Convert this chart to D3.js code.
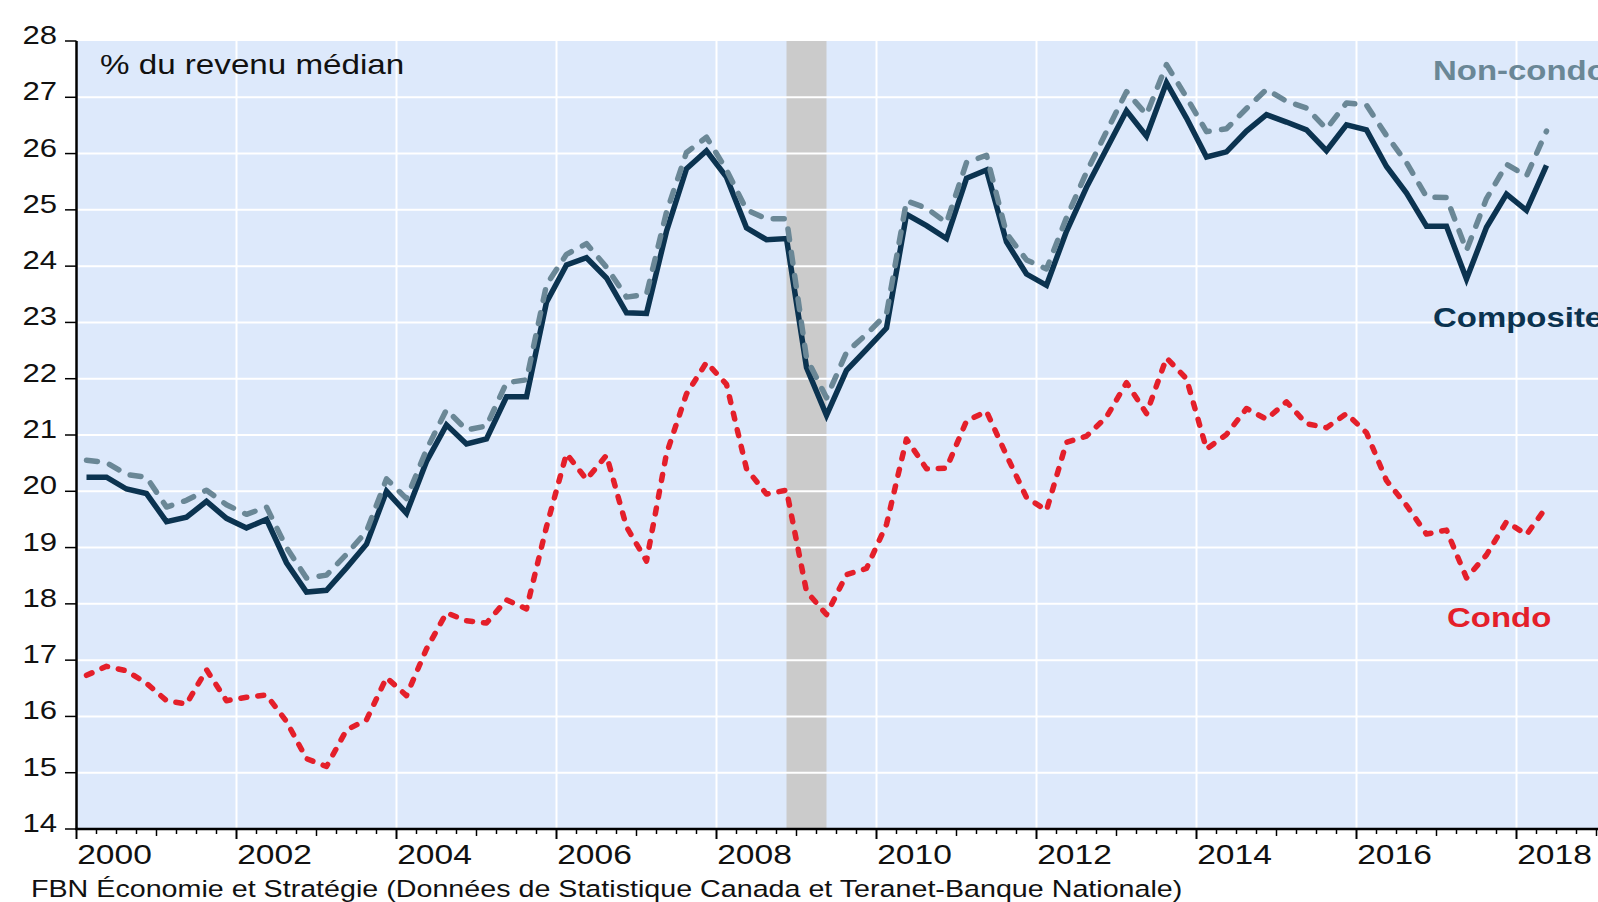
<!DOCTYPE html>
<html>
<head>
<meta charset="utf-8">
<script src="https://cdn.jsdelivr.net/npm/d3@7.9.0/dist/d3.min.js"></script>
<style>
  html, body { margin: 0; padding: 0; background: #fff; overflow: hidden; }
  svg { display: block; font-family: "Liberation Sans", Arial, sans-serif; }
</style>
</head>
<body>
<svg id="chart" width="1598" height="902"></svg>
<script>
// quarterly series, 2000T1 -> 2018T2
const startYear = 2000;
const composite = [
  20.25, 20.25, 20.04, 19.96, 19.46, 19.54, 19.82, 19.52,
  19.35, 19.50, 18.73, 18.21, 18.24, 18.64, 19.06, 20.00,
  19.61, 20.53, 21.18, 20.84, 20.93, 21.68, 21.68, 23.36,
  24.02, 24.15, 23.79, 23.17, 23.16, 24.62, 25.73, 26.05,
  25.58, 24.68, 24.47, 24.49, 22.20, 21.35, 22.15, 22.52,
  22.90, 24.92, 24.72, 24.49, 25.56, 25.71, 24.43, 23.86,
  23.66, 24.62, 25.40, 26.08, 26.76, 26.31, 27.26, 26.63,
  25.94, 26.03, 26.40, 26.69, 26.56, 26.42, 26.05, 26.51,
  26.42, 25.77, 25.30, 24.71, 24.71, 23.77, 24.69, 25.28,
  24.99, 25.79
];
const nonCondo = [
  20.55, 20.51, 20.30, 20.25, 19.72, 19.84, 20.02, 19.76,
  19.59, 19.72, 19.00, 18.46, 18.51, 18.88, 19.29, 20.22,
  19.87, 20.74, 21.45, 21.09, 21.16, 21.93, 21.98, 23.67,
  24.21, 24.40, 23.98, 23.45, 23.50, 24.96, 26.02, 26.29,
  25.71, 25.00, 24.84, 24.84, 22.37, 21.66, 22.47, 22.79,
  23.15, 25.16, 25.03, 24.77, 25.84, 25.97, 24.58, 24.11,
  23.95, 24.86, 25.67, 26.39, 27.10, 26.69, 27.58, 27.00,
  26.39, 26.44, 26.80, 27.14, 26.93, 26.81, 26.44, 26.90,
  26.86, 26.32, 25.84, 25.23, 25.22, 24.28, 25.20, 25.81,
  25.60, 26.40
];
const condo = [
  16.73, 16.89, 16.81, 16.59, 16.28, 16.22, 16.83, 16.28,
  16.34, 16.38, 15.91, 15.25, 15.11, 15.76, 15.94, 16.69,
  16.37, 17.20, 17.84, 17.70, 17.66, 18.07, 17.91, 19.37,
  20.67, 20.21, 20.64, 19.37, 18.76, 20.67, 21.73, 22.29,
  21.90, 20.40, 19.95, 20.02, 18.22, 17.81, 18.52, 18.63,
  19.41, 20.93, 20.40, 20.41, 21.25, 21.42, 20.64, 19.89,
  19.66, 20.87, 20.98, 21.32, 21.93, 21.38, 22.37, 22.00,
  20.75, 21.01, 21.47, 21.28, 21.59, 21.20, 21.13, 21.38,
  21.04, 20.19, 19.75, 19.24, 19.31, 18.46, 18.87, 19.46,
  19.23, 19.72
];
const recession = [2008.875, 2009.375];
const yTicks = [14, 15, 16, 17, 18, 19, 20, 21, 22, 23, 24, 25, 26, 27, 28];
const yearLabels = [2000, 2002, 2004, 2006, 2008, 2010, 2012, 2014, 2016, 2018];

const SX = 1.22; // the original graph is stretched horizontally
const svg = d3.select("#chart");

const x = d3.scaleLinear().domain([2000, 2019]).range([76.5, 1596.5]);
const y = d3.scaleLinear().domain([14, 28]).range([829, 41]);

const quarterDate = (i) => startYear + (i + 0.5) / 4;

function stretched(sel, px, py) {
  return sel.attr("transform", `translate(${px},${py}) scale(${SX},1)`);
}

// background
svg.append("rect")
  .attr("x", x(2000)).attr("y", y(28))
  .attr("width", 1598 - x(2000)).attr("height", y(14) - y(28))
  .attr("fill", "#dde9fb");

// recession band
svg.append("rect")
  .attr("x", x(recession[0])).attr("y", y(28))
  .attr("width", x(recession[1]) - x(recession[0]))
  .attr("height", y(14) - y(28))
  .attr("fill", "#cbcbcb");

// grid
svg.append("g").selectAll("line")
  .data(yTicks.filter((d) => d > 14 && d < 28))
  .join("line")
  .attr("x1", x(2000)).attr("x2", 1598)
  .attr("y1", (d) => y(d)).attr("y2", (d) => y(d))
  .attr("stroke", "#fff").attr("stroke-width", 2);

svg.append("g").selectAll("line")
  .data(yearLabels.filter((d) => d > 2000))
  .join("line")
  .attr("x1", (d) => x(d)).attr("x2", (d) => x(d))
  .attr("y1", y(28)).attr("y2", y(14))
  .attr("stroke", "#fff").attr("stroke-width", 2);

// lines
const line = d3.line()
  .x((d, i) => x(quarterDate(i)))
  .y((d) => y(d));

svg.append("path").datum(condo)
  .attr("d", line).attr("fill", "none")
  .attr("stroke", "#e41f2a").attr("stroke-width", 5.5)
  .attr("stroke-linecap", "round").attr("stroke-linejoin", "round")
  .attr("stroke-dasharray", "6,11");

svg.append("path").datum(composite)
  .attr("d", line).attr("fill", "none")
  .attr("stroke", "#0b3350").attr("stroke-width", 5.5)
  .attr("stroke-linejoin", "miter");

svg.append("path").datum(nonCondo)
  .attr("d", line).attr("fill", "none")
  .attr("stroke", "#6a8796").attr("stroke-width", 5.5)
  .attr("stroke-linecap", "round").attr("stroke-linejoin", "round")
  .attr("stroke-dasharray", "11,12.5");

// axes
const yAxis = svg.append("g");
yAxis.append("line")
  .attr("x1", x(2000)).attr("x2", x(2000))
  .attr("y1", y(28)).attr("y2", y(14) + 1)
  .attr("stroke", "#000").attr("stroke-width", 2.5);
yAxis.selectAll(".tick")
  .data(yTicks)
  .join("line")
  .attr("x1", 65).attr("x2", x(2000))
  .attr("y1", (d) => y(d)).attr("y2", (d) => y(d))
  .attr("stroke", "#000").attr("stroke-width", 1.5);
yAxis.selectAll("text")
  .data(yTicks)
  .join("text")
  .attr("text-anchor", "end")
  .attr("font-size", 25.5)
  .attr("fill", "#111")
  .text((d) => d)
  .each(function (d) { stretched(d3.select(this), 57, y(d) + 3); });

const xAxis = svg.append("g");
xAxis.append("line")
  .attr("x1", x(2000) - 1).attr("x2", 1598)
  .attr("y1", y(14)).attr("y2", y(14))
  .attr("stroke", "#000").attr("stroke-width", 2.5);
const quarterTicks = d3.range(0, 77).map((i) => startYear + i / 4);
xAxis.selectAll(".q")
  .data(quarterTicks)
  .join("line")
  .attr("x1", (d) => x(d)).attr("x2", (d) => x(d))
  .attr("y1", y(14))
  .attr("y2", (d) => y(14) + (d % 2 === 0 ? 10 : d % 1 === 0 ? 7 : 5))
  .attr("stroke", "#000")
  .attr("stroke-width", (d) => (d % 2 === 0 ? 2 : 1.5));
xAxis.selectAll("text")
  .data(yearLabels)
  .join("text")
  .attr("text-anchor", "middle")
  .attr("font-size", 27.5)
  .attr("fill", "#111")
  .text((d) => d)
  .each(function (d) { stretched(d3.select(this), x(d + 0.5) - 2, 864); });

// annotations
stretched(svg.append("text"), 100, 74)
  .attr("font-size", 27.2).attr("fill", "#111")
  .text("% du revenu médian");

stretched(svg.append("text"), 1433, 80)
  .attr("font-size", 27).attr("font-weight", "bold").attr("fill", "#6a8796")
  .text("Non-condo");
stretched(svg.append("text"), 1433, 327)
  .attr("font-size", 27).attr("font-weight", "bold").attr("fill", "#0b3350")
  .text("Composite");
stretched(svg.append("text"), 1447, 627)
  .attr("font-size", 27).attr("font-weight", "bold").attr("fill", "#e41f2a")
  .text("Condo");

stretched(svg.append("text"), 31, 897)
  .attr("font-size", 23.5).attr("fill", "#111")
  .text("FBN Économie et Stratégie (Données de Statistique Canada et Teranet-Banque Nationale)");
</script>
</body>
</html>
